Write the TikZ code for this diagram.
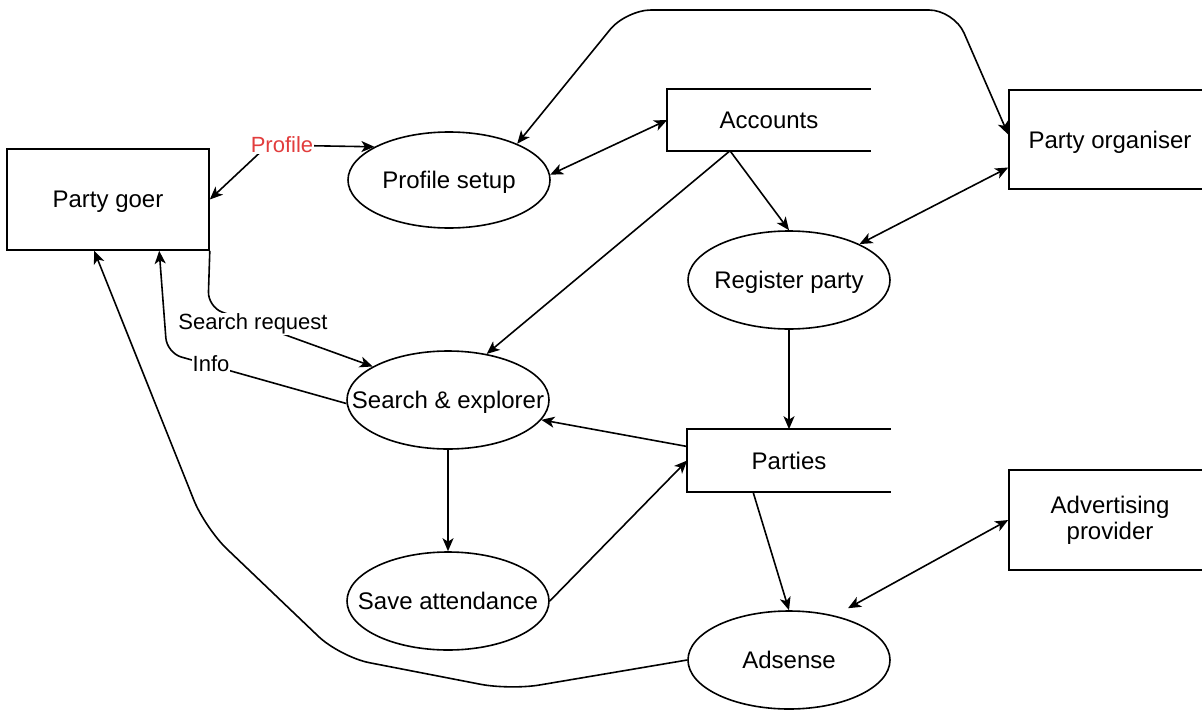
\documentclass[tikz,border=0pt]{standalone}
\usepackage{fontspec}
\setmainfont{Liberation Sans}
\usetikzlibrary{arrows.meta,shapes.geometric,calc}
\definecolor{profred}{RGB}{226,61,61}
\newcommand\zw[1]{\makebox[0pt]{#1}}
\begin{document}
\begin{tikzpicture}[x=1pt,y=-1pt, line width=1.6pt,
  >={Stealth[length=13pt,width=11pt,inset=3.5pt]},
  nodefont/.style={font=\fontsize{24}{28}\selectfont, text depth=0pt},
  proc/.style={ellipse, draw, minimum width=202pt, minimum height=98pt, inner sep=0pt, nodefont},
  ent/.style={rectangle, draw, minimum width=202pt, inner sep=0pt, nodefont},
  store/.style={rectangle, minimum width=202pt, minimum height=60pt, inner sep=0pt, nodefont},
  lbl/.style={fill=white, inner sep=1pt, font=\fontsize{22}{26}\selectfont}]
\clip (0,0) rectangle (1202,712);
\fill[white] (0,0) rectangle (1202,712);

% nodes
\node[ent, minimum height=101pt] (pg) at (108,199.5) {Party goer};
\node[proc, minimum height=96pt] (ps) at (449,180) {\zw{Profile setup}};
\node[store] (ac) at (769,120) {Accounts};
\draw (ac.north east) -- (ac.north west) -- (ac.south west) -- (ac.south east);
\node[ent, minimum height=99pt] (po) at (1110,139.5) {Party organiser};
\node[proc] (rp) at (789,280) {\zw{Register party}};
\node[proc] (se) at (448,400) {\zw{Search \& explorer}};
\node[store, minimum height=61pt] (pa) at (789,460.5) {Parties};
\draw (pa.north east) -- (pa.north west) -- (pa.south west) -- (pa.south east);
\node[ent, minimum height=100pt, align=center, text depth=] (av) at (1110,520) {Advertising\\[-2pt]provider};
\node[proc] (sa) at (448,601) {\zw{Save attendance}};
\node[proc] (ad) at (789,660) {\zw{Adsense}};

% connectors
\draw[<->] (pg.east) -- (268,145) -- (ps.156);
\node[lbl, text=profred] (lprof) at (282,145) {Profile};
\draw[<->, rounded corners=25pt] (ps.28) -- (626,10) -- (954,10) -- ([yshift=5pt]po.west);
\draw[<->] (ps.3) -- (ac.west);
\draw[->] ([xshift=-39pt]ac.south) -- (se.50);
\draw[->] ([xshift=-39pt]ac.south) -- (rp.north);
\draw[<->] ([yshift=-28pt]po.west) -- (rp.27);
\draw[->] (rp.south) -- (pa.north);
\draw[->] ([yshift=14pt]pa.west) -- (se.-12);
\draw[->] (se.south) -- (sa.north);
\draw[->] (sa.east) -- (pa.west);
\draw[->] ([xshift=-36pt]pa.south) -- (ad.north);
\draw[<->] (av.west) -- ([xshift=59pt,yshift=2pt]ad.north);
\draw[->, rounded corners=30pt] (ad.west) -- (510,690) -- (340,657) -- (205,528) -- ([xshift=88pt]pg.south west);
\draw[->, rounded corners=15pt] (pg.south east) -- (208,307) -- (se.156);
\node[lbl] (lsr) at (253,324) {Search request};
\draw[->, rounded corners=15pt] (se.182) -- (167,353) -- ([xshift=153pt]pg.south west);
\node[lbl] (linfo) at (211,364) {Info};
\end{tikzpicture}
\end{document}
